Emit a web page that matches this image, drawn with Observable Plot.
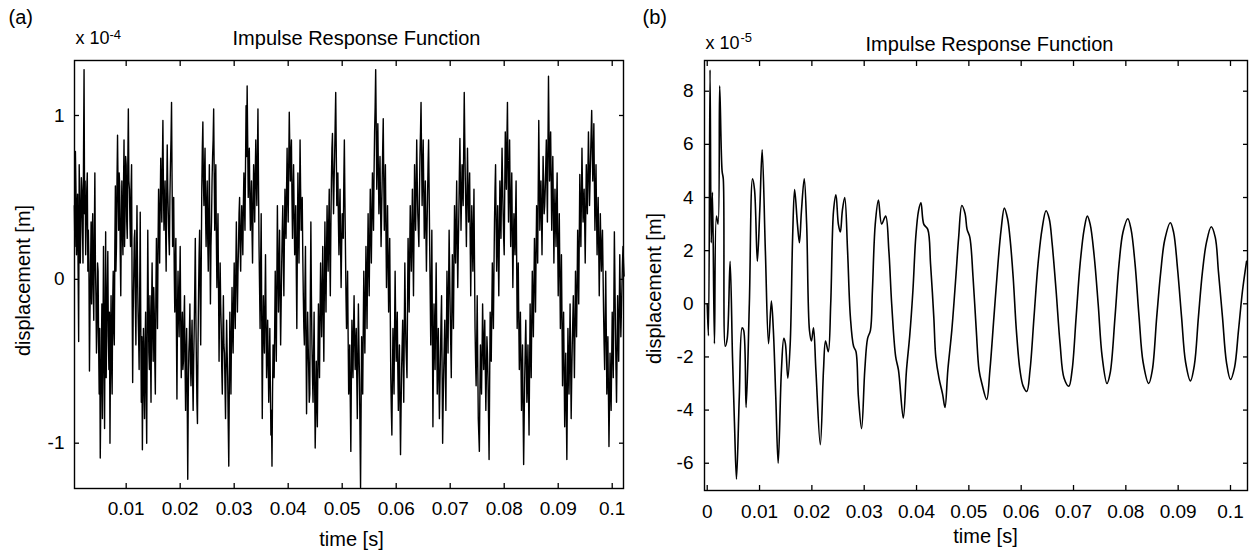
<!DOCTYPE html>
<html><head><meta charset="utf-8">
<script src="https://cdn.jsdelivr.net/npm/d3@7"></script>
<script src="https://cdn.jsdelivr.net/npm/@observablehq/plot@0.6"></script>
<style>
html,body{margin:0;padding:0;background:#fff;}
#wrap{position:relative;width:1258px;height:554px;overflow:hidden;background:#fff;}
#pa,#pb{position:absolute;top:0;}
#pa{left:0;}
#pb{left:628px;}
</style></head><body>
<div id="wrap"><div id="pa"></div><div id="pb"></div></div>
<script>
// ---------- Panel (a): displacement in units of 1e-4 m, sampled every 0.0001 s ----------
// even samples (t = 0.0004 + 0.0002*i) and odd samples (t = 0.0005 + 0.0002*i)
const aStart = 0.0004;
const aStep = 0.0001;
const aDispEven = [
 0.45,0.78,0.15,0.52,-0.38,0.48,0.30,0.55,0.10,1.28,
 0.60,0.35,0.65,0.30,-0.56,0.05,-0.15,0.40,-0.25,0.65,
 -0.10,-0.30,0.05,-0.70,-1.09,-0.45,-0.85,0.20,-0.91,0.29,
 -0.30,0.17,-0.55,-1.00,-0.10,-0.70,0.05,-0.40,0.57,0.20,
 0.88,0.30,0.57,-0.10,0.60,0.15,0.85,0.40,0.70,0.25,
 1.04,0.55,0.20,0.70,-0.63,0.02,0.30,-0.40,0.45,-0.20,
 -0.55,0.41,-0.75,-1.04,-0.30,-0.85,-0.20,-1.00,0.30,-0.45,
 -0.10,-0.75,0.10,-0.50,-0.20,-0.70,0.25,-0.30,0.55,0.10,
 0.74,0.35,0.97,0.30,0.60,0.05,0.82,0.40,0.15,0.70,
 1.08,0.20,0.50,-0.20,0.25,-0.73,0.05,-0.35,0.20,-0.60,
 -0.20,-0.50,-0.10,-0.80,-0.30,-1.22,-0.45,-0.15,-0.65,-0.25,
 -0.80,-0.30,0.25,-0.50,-0.88,-0.10,0.30,-0.40,0.55,0.96,
 0.45,0.80,0.20,0.60,0.05,0.70,-0.15,0.35,0.75,1.04,
 0.30,0.70,-0.05,0.40,-0.50,0.10,-0.30,-0.70,-0.10,-0.45,
 -0.85,-0.25,-0.60,-1.14,-0.20,-0.70,-0.05,-0.45,0.10,-0.30,
 0.35,-0.20,0.20,0.50,0.05,0.45,0.15,0.65,0.30,1.06,
 1.18,0.50,0.80,0.30,0.60,0.10,0.70,0.35,0.85,0.45,
 1.04,0.20,-0.30,0.40,-0.85,-0.10,-0.45,0.15,-0.60,-0.25,
 -0.75,-0.30,-0.95,-1.14,-0.40,-0.60,0.05,-0.50,0.45,-0.20,
 0.30,-0.40,0.10,0.45,-0.10,0.55,0.25,0.80,0.35,1.02,
 0.60,0.85,0.25,0.70,0.15,0.45,-0.30,0.65,0.10,0.85,
 0.30,0.50,-0.10,-0.40,0.20,-0.82,-0.20,-0.55,-0.70,0.35,
 -0.40,-0.75,-0.20,-1.03,-0.50,-0.90,-0.15,-0.60,0.10,-0.35,
 0.20,-0.50,0.35,-0.20,0.45,0.05,0.55,-0.10,0.60,0.89,
 0.40,0.75,1.14,0.45,0.65,0.15,0.55,-0.05,0.40,0.25,
 0.85,0.20,-0.30,0.05,-0.70,-0.40,-1.05,-0.25,-0.60,-0.10,
 -0.55,-0.30,-0.85,-0.15,-0.60,-1.27,-0.35,-0.70,0.05,-0.45,
 0.20,-0.30,0.40,-0.10,0.55,0.10,0.65,0.30,0.90,1.28,
 0.55,0.95,0.40,0.75,0.20,0.60,0.98,0.30,0.70,-0.05,
 0.45,-0.20,0.25,-0.60,-0.95,-0.30,-0.70,0.05,-0.50,-0.20,
 -0.80,-0.40,-1.07,-0.55,-0.25,-0.75,0.10,-0.40,-0.60,0.25,
 -0.20,0.45,0.05,0.55,-0.10,0.70,0.30,0.85,0.40,0.20,
 0.75,1.08,0.45,0.85,0.25,0.60,0.05,0.50,0.85,0.20,
 -0.40,0.30,-0.90,-0.15,-0.55,0.10,-0.70,-0.30,-0.85,-0.45,
 -0.10,-1.00,-0.55,-0.25,-0.80,0.05,-0.45,0.30,-0.20,-0.60,
 0.15,-0.30,0.45,0.10,0.60,-0.05,0.40,0.86,0.30,0.70,
 0.45,1.14,0.60,0.20,0.80,0.35,0.65,-0.10,0.45,0.05,
 0.55,-0.30,-0.65,-0.10,-0.85,-1.05,-0.40,-0.70,-0.15,-0.55,
 -0.25,-0.80,-0.35,-0.60,-1.10,-0.20,-0.50,0.10,-0.30,0.35,
 0.70,0.05,0.45,-0.10,0.60,0.25,0.80,0.40,0.15,0.90,
 0.55,1.08,0.35,0.85,0.20,0.65,-0.05,0.40,0.15,0.60,
 -0.30,0.10,-0.55,-0.20,-0.80,-0.40,-1.13,-0.60,-0.25,-0.75,
 -0.40,-0.95,-0.15,-0.60,0.05,-0.35,0.25,-0.20,0.45,0.10,
 0.97,0.30,0.60,0.15,0.75,0.40,0.55,0.85,0.35,1.24,
 0.60,0.90,0.30,0.75,0.10,0.55,0.20,0.65,-0.10,0.40,
 -0.30,0.15,-0.65,-0.20,-0.90,-0.45,-1.10,-0.30,-0.70,-0.15,
 -0.85,-0.40,-0.10,-0.60,0.05,-0.35,0.30,-0.15,0.64,0.20,
 0.80,0.35,0.55,0.10,0.70,0.40,0.90,0.45,0.75,1.03,
 0.60,0.95,0.30,0.70,0.15,0.50,-0.10,0.40,0.05,0.30,
 -0.20,-0.55,0.05,-0.70,-0.35,-1.02,-0.45,-0.80,-0.20,-0.60,
 0.29,-0.30,-0.75,-0.10,-0.50,0.15,-0.35,-0.05,0.20,0.02
];
const aDispOdd = [
 0.20,0.55,0.40,0.05,0.70,0.10,0.62,0.35,0.75,0.40,
 0.15,0.55,0.05,0.10,-0.20,0.35,0.20,-0.05,0.25,0.10,
 -0.45,0.10,-0.40,-0.30,-0.75,-0.15,-0.35,-0.50,-0.20,-0.60,
 -0.05,-0.35,-0.20,-0.45,-0.50,-0.15,-0.30,0.20,0.05,0.60,
 0.55,0.65,0.15,0.35,0.30,0.55,0.20,0.75,0.35,0.70,
 0.60,0.35,0.55,-0.10,-0.20,0.25,-0.15,0.10,0.05,-0.35,
 -0.10,-0.25,-0.35,-0.55,-0.65,-0.40,-0.70,-0.30,-0.15,-0.55,
 -0.45,-0.20,-0.30,-0.05,-0.50,-0.10,-0.05,0.20,0.35,0.45,
 0.50,0.70,0.55,0.45,0.30,0.50,0.55,0.25,0.50,0.85,
 0.60,0.40,0.05,0.10,-0.30,-0.20,-0.20,-0.05,-0.25,-0.35,
 -0.55,-0.25,-0.50,-0.45,-0.70,-0.70,-0.35,-0.50,-0.40,-0.60,
 -0.50,-0.05,-0.20,-0.75,-0.40,0.15,-0.10,0.10,0.80,0.60,
 0.65,0.40,0.45,0.25,0.40,0.25,0.20,0.60,0.85,0.65,
 0.55,0.25,0.20,-0.05,-0.15,-0.15,-0.55,-0.35,-0.40,-0.65,
 -0.50,-0.45,-0.90,-0.65,-0.45,-0.35,-0.30,-0.15,-0.15,0.05,
 0.05,0.05,0.40,0.20,0.30,0.30,0.45,0.45,0.70,0.75,
 0.85,0.70,0.50,0.45,0.30,0.45,0.55,0.65,0.60,0.75,
 0.60,-0.05,0.10,-0.25,-0.40,-0.30,-0.15,-0.25,-0.45,-0.50,
 -0.55,-0.65,-0.80,-0.70,-0.55,-0.30,-0.25,0.00,0.10,0.05,
 -0.10,-0.15,0.30,0.15,0.25,0.35,0.55,0.50,0.70,0.80,
 0.75,0.50,0.50,0.40,0.30,0.05,0.20,0.35,0.50,0.55,
 0.40,0.15,-0.30,-0.05,-0.35,-0.45,-0.40,-0.75,-0.10,-0.10,
 -0.60,-0.45,-0.65,-0.80,-0.70,-0.50,-0.40,-0.20,-0.15,-0.05,
 -0.20,-0.05,0.05,0.15,0.20,0.35,0.15,0.30,0.80,0.60,
 0.60,0.95,0.80,0.55,0.35,0.40,0.20,0.20,0.30,0.60,
 0.50,-0.10,-0.15,-0.35,-0.60,-0.75,-0.60,-0.45,-0.30,-0.35,
 -0.40,-0.60,-0.50,-0.40,-0.95,-0.80,-0.55,-0.30,-0.25,-0.10,
 -0.05,0.10,0.10,0.25,0.30,0.40,0.45,0.65,1.05,0.95,
 0.75,0.65,0.60,0.45,0.40,0.80,0.60,0.50,0.30,0.20,
 0.10,0.05,-0.20,-0.80,-0.60,-0.50,-0.30,-0.25,-0.35,-0.55,
 -0.60,-0.75,-0.80,-0.40,-0.50,-0.30,-0.20,-0.50,-0.15,0.05,
 0.15,0.25,0.30,0.20,0.30,0.50,0.55,0.60,0.30,0.50,
 0.90,0.75,0.65,0.55,0.40,0.30,0.30,0.70,0.55,-0.10,
 -0.05,-0.30,-0.50,-0.35,-0.20,-0.30,-0.50,-0.60,-0.65,-0.25,
 -0.55,-0.75,-0.40,-0.55,-0.35,-0.20,-0.05,0.05,-0.40,-0.20,
 -0.05,0.10,0.25,0.35,0.25,0.20,0.65,0.55,0.50,0.55,
 0.80,0.85,0.40,0.50,0.55,0.50,0.25,0.20,0.25,0.30,
 0.10,-0.50,-0.40,-0.50,-0.95,-0.70,-0.55,-0.45,-0.35,-0.40,
 -0.55,-0.60,-0.45,-0.85,-0.65,-0.35,-0.20,-0.10,0.05,0.55,
 0.35,0.25,0.15,0.25,0.45,0.55,0.60,0.25,0.55,0.70,
 0.85,0.70,0.60,0.50,0.45,0.30,0.20,0.25,0.40,0.15,
 -0.10,-0.25,-0.40,-0.50,-0.60,-0.80,-0.85,-0.40,-0.50,-0.60,
 -0.70,-0.55,-0.40,-0.25,-0.15,-0.05,0.05,0.15,0.30,0.55,
 0.65,0.45,0.40,0.45,0.60,0.45,0.70,0.60,0.80,0.90,
 0.75,0.60,0.55,0.45,0.35,0.35,0.45,0.25,0.15,0.05,
 -0.10,-0.25,-0.40,-0.55,-0.65,-0.80,-0.70,-0.50,-0.45,-0.50,
 -0.60,-0.25,-0.35,-0.30,-0.15,-0.05,0.10,0.25,0.40,0.50,
 0.55,0.45,0.35,0.40,0.55,0.65,0.70,0.60,0.90,0.80,
 0.75,0.60,0.50,0.40,0.35,0.20,0.15,0.20,0.20,0.05,
 -0.40,-0.25,-0.30,-0.55,-0.70,-0.75,-0.65,-0.50,-0.40,-0.15,
 0.00,-0.55,-0.45,-0.30,-0.20,-0.10,-0.20,0.10,0.10
];
const aXTicks = [0.01,0.02,0.03,0.04,0.05,0.06,0.07,0.08,0.09,0.1];
const aYTicks = [-1,0,1];
const aExponent = "-4";

// ---------- Panel (b): displacement in units of 1e-5 m ----------
const bTime = [0,0.00023,0.00054,0.00077,0.001,0.00138,0.00176,0.00207,0.00238,0.00284,
 0.00307,0.00345,0.00383,0.00437,0.00483,0.00521,0.00559,0.00613,0.00667,0.00697,
 0.00743,0.00805,0.00866,0.00904,0.00958,0.01004,0.0105,0.01111,0.01172,0.01226,
 0.01264,0.0131,0.01356,0.01418,0.01464,0.01494,0.0154,0.01586,0.01632,0.0167,
 0.01724,0.01762,0.01801,0.01854,0.019,0.01954,0.01992,0.02031,0.02077,0.02161,
 0.02222,0.02261,0.02314,0.0236,0.02414,0.0246,0.02506,0.02544,0.02582,0.02628,
 0.02682,0.02736,0.02797,0.02843,0.02889,0.0295,0.03011,0.03065,0.03119,0.03157,
 0.03211,0.03272,0.03333,0.0341,0.03471,0.03525,0.03602,0.03655,0.03747,0.03808,
 0.0387,0.03931,0.03985,0.04038,0.04084,0.04138,0.04215,0.04268,0.0433,0.04368,
 0.04429,0.04498,0.04544,0.04598,0.04674,0.04751,0.04805,0.04866,0.04927,0.04966,
 0.05019,0.0508,0.05142,0.05195,0.05249,0.05341,0.05402,0.05479,0.05556,0.05617,
 0.05678,0.0574,0.05785,0.05847,0.05908,0.05977,0.06038,0.06107,0.06169,0.06245,
 0.06322,0.06398,0.06475,0.06536,0.0659,0.06667,0.06743,0.0682,0.06912,0.06973,
 0.0705,0.07126,0.07203,0.07264,0.07318,0.07395,0.07471,0.07548,0.0764,0.07701,
 0.07793,0.0787,0.07946,0.08038,0.081,0.08176,0.08253,0.0833,0.08437,0.08506,
 0.0859,0.08667,0.08743,0.0885,0.08912,0.08989,0.09065,0.09142,0.09234,0.0931,
 0.09387,0.09464,0.0954,0.09632,0.09709,0.0977,0.09847,0.09923,0.1,0.10077,
 0.10153,0.1023,0.10307];
const bDisp = [0,-1.2,8.8,2.3,4.2,-1.5,3.3,3.0,8.2,5.0,
 4.7,-1.6,-1.3,1.6,-2.0,-4.5,-6.6,-3.5,-0.9,-1.0,
 -3.9,0.0,4.7,4.3,1.6,3.5,5.8,2.0,-1.5,0.1,
 -1.0,-3.5,-6.0,-2.5,-1.3,-1.5,-2.8,-1.5,2.5,4.3,
 3.0,2.3,3.5,4.7,3.0,-1.0,-1.4,-0.9,-2.5,-5.3,
 -2.5,-1.4,-1.8,0.0,3.5,4.1,3.0,2.7,3.5,4.0,
 2.0,-0.5,-1.6,-1.8,-3.5,-4.7,-2.5,-1.3,-1.0,0.5,
 3.0,3.9,3.0,3.3,2.0,0.0,-2.0,-2.5,-4.3,-2.5,
 -1.2,0.5,2.5,3.5,3.8,3.0,2.8,1.5,-0.5,-2.0,
 -2.8,-3.4,-3.9,-2.5,-1.0,1.0,2.5,3.7,3.4,2.8,
 2.5,1.0,-1.0,-2.5,-3.0,-3.6,-2.5,-0.5,1.5,2.8,
 3.6,3.2,2.5,1.0,-1.0,-2.5,-3.1,-3.3,-2.5,-0.5,
 1.5,2.8,3.5,3.2,2.3,0.5,-1.5,-2.8,-3.1,-2.5,
 -0.5,1.5,2.8,3.3,3.0,1.8,0.0,-2.0,-3.0,-2.6,
 -0.5,1.5,2.7,3.2,2.8,1.5,-0.5,-2.2,-3.0,-2.5,
 -0.5,1.2,2.4,3.05,2.7,1.3,-0.5,-2.2,-2.9,-2.3,
 -0.5,1.2,2.3,2.9,2.5,1.2,-0.5,-2.2,-2.85,-2.4,
 -1.0,0.5,1.6];
const bXTicks = [0,0.01,0.02,0.03,0.04,0.05,0.06,0.07,0.08,0.09,0.1];
const bYTicks = [-6,-4,-2,0,2,4,6,8];
const bExponent = "-5";

// ---------- shared texts ----------
const titleText = "Impulse Response Function";
const xLabelText = "time [s]";
const yLabelText = "displacement [m]";
const panelTags = ["(a)", "(b)"];
const scaleBase = "x 10";

const FONT = "'Liberation Sans', Arial, Helvetica, sans-serif";
const fmt = d => String(d);

function panel(cfg) {
  const L = cfg.text;
  return Plot.plot({
    width: 630, height: 554,
    marginLeft: cfg.m[0], marginRight: cfg.m[1], marginTop: cfg.m[2], marginBottom: cfg.m[3],
    style: {fontFamily: FONT, fontSize: "19px", color: "black", background: "white", overflow: "visible"},
    x: {domain: cfg.xDomain},
    y: {domain: cfg.yDomain},
    marks: [
      Plot.line(cfg.rows, {x: "t", y: "v", stroke: "black", strokeWidth: cfg.sw, curve: cfg.curve}),
      Plot.frame({stroke: "black", strokeWidth: 1.4}),
      Plot.axisX(cfg.xTicks, {anchor: "bottom", tickSize: -5, tickPadding: cfg.xPad, tickFormat: fmt, fontSize: 19, label: null, strokeWidth: 1.3}),
      Plot.axisX(cfg.xTicks, {anchor: "top", tickSize: -5, fill: "none", label: null, strokeWidth: 1.3}),
      Plot.axisY(cfg.yTicks, {anchor: "left", tickSize: -5, tickPadding: cfg.yPad, tickFormat: fmt, fontSize: 19, label: null, strokeWidth: 1.3}),
      Plot.axisY(cfg.yTicks, {anchor: "right", tickSize: -5, fill: "none", label: null, strokeWidth: 1.3}),
      Plot.text([cfg.tag], {frameAnchor: "top-left", textAnchor: "start", lineAnchor: "bottom", dx: L.tag[0], dy: L.tag[1], fontSize: 20, fill: "black"}),
      Plot.text([scaleBase], {frameAnchor: "top-left", textAnchor: "start", lineAnchor: "bottom", dx: L.base[0], dy: L.base[1], fontSize: 18, fill: "black"}),
      Plot.text([cfg.exp], {frameAnchor: "top-left", textAnchor: "start", lineAnchor: "bottom", dx: L.exp[0], dy: L.exp[1], fontSize: 13, fill: "black"}),
      Plot.text([titleText], {frameAnchor: "top", textAnchor: "middle", lineAnchor: "bottom", dx: L.title[0], dy: L.title[1], fontSize: 20, fill: "black"}),
      Plot.text([xLabelText], {frameAnchor: "bottom", textAnchor: "middle", lineAnchor: "bottom", dx: L.xl[0], dy: L.xl[1], fontSize: 20, fill: "black"}),
      Plot.text([yLabelText], {frameAnchor: "left", textAnchor: "middle", lineAnchor: "bottom", rotate: -90, dx: L.yl[0], dy: L.yl[1], fontSize: 20, fill: "black"})
    ]
  });
}

// interleave the even and odd samples of panel (a)
const aValues = [];
aDispEven.forEach((v, i) => {
  aValues.push(v);
  if (i < aDispOdd.length) aValues.push(aDispOdd[i]);
});
const aRows = aValues.map((v, i) => ({t: aStart + i * aStep, v}));
const bRows = bTime.map((t, i) => ({t, v: bDisp[i]}));

document.getElementById("pa").append(panel({
  rows: aRows, sw: 1.4, curve: "linear",
  m: [74, 7, 60, 66],
  xDomain: [0.00043, 0.10209], yDomain: [-1.2765, 1.3356],
  xTicks: aXTicks, yTicks: aYTicks, xPad: 17.5, yPad: 15,
  tag: panelTags[0], exp: aExponent,
  text: {tag: [-66, -37], base: [1, -17], exp: [35, -22], title: [7.5, -16], xl: [2.5, 57], yl: [-45, 6]}
}));

document.getElementById("pb").append(panel({
  rows: bRows, sw: 1.6, curve: "catmull-rom",
  m: [76, 11, 60, 64],
  xDomain: [-0.00052, 0.10325], yDomain: [-7.026, 9.156],
  xTicks: bXTicks, yTicks: bYTicks, xPad: 18.5, yPad: 16,
  tag: panelTags[1], exp: bExponent,
  text: {tag: [-62, -37], base: [1, -12], exp: [36, -18.3], title: [13.5, -10], xl: [9.5, 52], yl: [-44, 13]}
}));
</script>
</body></html>
